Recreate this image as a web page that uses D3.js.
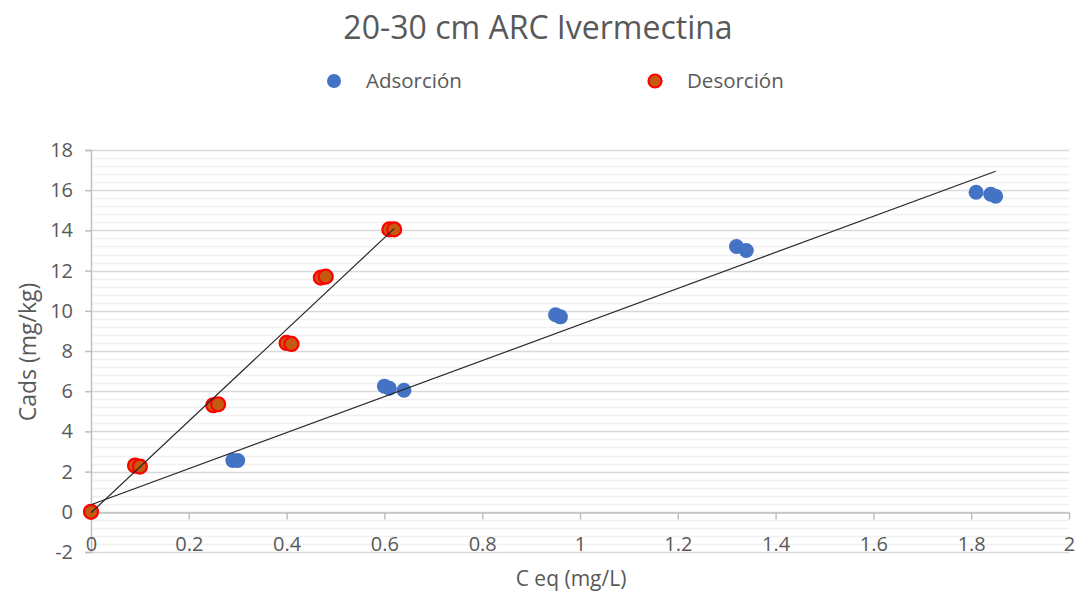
<!DOCTYPE html>
<html>
<head>
<meta charset="utf-8">
<script src="https://cdn.jsdelivr.net/npm/d3@7"></script>
<style>
  body { margin: 0; background: #fff; }
  text { font-family: "Open Sans", "Noto Sans", sans-serif; fill: #595959; }
</style>
</head>
<body>
<div id="chart"></div>
<script>
// values
const adsX = [0, 0.29, 0.30, 0.60, 0.61, 0.64, 0.95, 0.96, 1.32, 1.34, 1.81, 1.84, 1.85];
const adsY = [0, 2.55, 2.55, 6.25, 6.15, 6.05, 9.8, 9.7, 13.2, 13.0, 15.9, 15.8, 15.7];
const desX = [0, 0.09, 0.10, 0.25, 0.26, 0.40, 0.41, 0.47, 0.48, 0.61, 0.62];
const desY = [0, 2.3, 2.25, 5.3, 5.35, 8.4, 8.35, 11.65, 11.7, 14.05, 14.05];
// trendlines as drawn in the picture: [intercept, slope]
const adsTrend = [0.35, 8.97];
const desTrend = [-0.05, 22.8];
const xTicks = [0, 0.2, 0.4, 0.6, 0.8, 1, 1.2, 1.4, 1.6, 1.8, 2];
const yTicks = [-2, 0, 2, 4, 6, 8, 10, 12, 14, 16, 18];

const width = 1076, height = 595;
const margin = { top: 150, right: 7, bottom: 43, left: 91 };

const svg = d3.select('#chart').append('svg')
  .attr('width', width)
  .attr('height', height);

const x = d3.scaleLinear().domain([0, 2]).range([margin.left, width - margin.right]);
const y = d3.scaleLinear().domain([-2, 18]).range([height - margin.bottom, margin.top]);

// minor gridlines every 0.4
const minor = d3.range(-2, 18.001, 0.4).filter(v => Math.abs(v / 2 - Math.round(v / 2)) > 0.01);
svg.append('g').selectAll('line').data(minor).join('line')
  .attr('x1', x(0)).attr('x2', x(2))
  .attr('y1', d => Math.round(y(d)) + 0.5).attr('y2', d => Math.round(y(d)) + 0.5)
  .attr('stroke', '#f0f0f0').attr('stroke-width', 1.5);

// major gridlines
svg.append('g').selectAll('line').data(yTicks).join('line')
  .attr('x1', x(0)).attr('x2', x(2))
  .attr('y1', d => Math.round(y(d)) + 0.5).attr('y2', d => Math.round(y(d)) + 0.5)
  .attr('stroke', '#d9d9d9').attr('stroke-width', 1.5);

// y axis
const yAxis = svg.append('g')
  .attr('transform', `translate(${x(0)},0)`)
  .call(d3.axisLeft(y).tickValues(yTicks).tickSize(6).tickPadding(12)
    .tickFormat(d => String(d)));
yAxis.select('.domain').attr('stroke', '#bfbfbf').attr('stroke-width', 1.5);
yAxis.selectAll('.tick line').attr('stroke', '#bfbfbf').attr('stroke-width', 1.5);
yAxis.selectAll('.tick text')
  .style('font-size', '20px').style('fill', '#595959')
  .style('font-family', '"Open Sans", sans-serif');

// x axis drawn at y = 0
const xAxis = svg.append('g')
  .attr('transform', `translate(0,${Math.round(y(0)) + 0.5})`)
  .call(d3.axisBottom(x).tickValues(xTicks).tickSize(7).tickSizeOuter(0)
    .tickFormat(d => String(d)));
xAxis.select('.domain').attr('stroke', '#bfbfbf').attr('stroke-width', 1.5);
xAxis.selectAll('.tick line').attr('stroke', '#bfbfbf').attr('stroke-width', 1.5);
xAxis.selectAll('.tick text')
  .attr('y', 24)
  .style('font-size', '20px').style('fill', '#595959')
  .style('font-family', '"Open Sans", sans-serif');

// points
const ads = adsX.map((v, i) => ({ x: v, y: adsY[i] }));
const des = desX.map((v, i) => ({ x: v, y: desY[i] }));

svg.append('g').selectAll('circle').data(ads).join('circle')
  .attr('cx', d => x(d.x)).attr('cy', d => y(d.y)).attr('r', 7.5)
  .attr('fill', '#4472c4');

svg.append('g').selectAll('circle').data(des).join('circle')
  .attr('cx', d => x(d.x)).attr('cy', d => y(d.y)).attr('r', 7)
  .attr('fill', '#c55a11').attr('stroke', '#ff0000').attr('stroke-width', 2.2);

// linear trendlines over each series' x range
[[adsTrend, adsX], [desTrend, desX]].forEach(([t, xs]) => {
  const x0 = d3.min(xs), x1 = d3.max(xs);
  svg.append('line')
    .attr('x1', x(x0)).attr('y1', y(t[0] + t[1] * x0))
    .attr('x2', x(x1)).attr('y2', y(t[0] + t[1] * x1))
    .attr('stroke', '#262626').attr('stroke-width', 1.2);
});

// title
svg.append('text')
  .attr('x', 538).attr('y', 39)
  .attr('text-anchor', 'middle')
  .style('font-size', '32px')
  .text('20-30 cm ARC Ivermectina');

// legend
svg.append('circle').attr('cx', 334).attr('cy', 81).attr('r', 7).attr('fill', '#4472c4');
svg.append('text').attr('x', 366).attr('y', 88).style('font-size', '20.5px').text('Adsorción');
svg.append('circle').attr('cx', 655).attr('cy', 81).attr('r', 6.5)
  .attr('fill', '#c55a11').attr('stroke', '#ff0000').attr('stroke-width', 2.2);
svg.append('text').attr('x', 687).attr('y', 88).style('font-size', '20.5px').text('Desorción');

// axis titles
svg.append('text')
  .attr('x', 571).attr('y', 586)
  .attr('text-anchor', 'middle')
  .style('font-size', '21px')
  .text('C eq (mg/L)');

svg.append('text')
  .attr('transform', 'translate(36,352) rotate(-90)')
  .attr('text-anchor', 'middle')
  .style('font-size', '23px')
  .text('Cads (mg/kg)');
</script>
</body>
</html>
